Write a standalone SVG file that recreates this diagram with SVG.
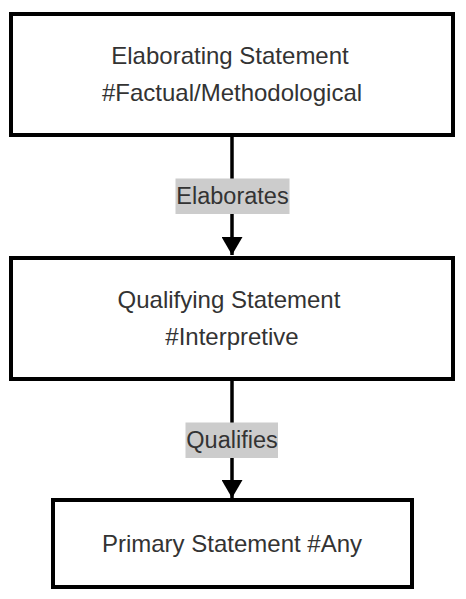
<svg xmlns="http://www.w3.org/2000/svg" width="466" height="599" viewBox="0 0 466 599">
<style>
.box{fill:#fff;stroke:#000;stroke-width:4}
.t{font-family:"Liberation Sans",Arial,sans-serif;font-size:24px;fill:#333;text-anchor:middle}
.el{font-family:"Liberation Sans",Arial,sans-serif;font-size:23.5px;fill:#333;text-anchor:middle}
.lbg{fill:#cccccc}
.edge{stroke:#000;stroke-width:3.5;fill:none}
</style>
<defs>
<marker id="ah" markerUnits="userSpaceOnUse" markerWidth="18" markerHeight="21" refX="18" refY="10.5" orient="auto" viewBox="0 0 18 21">
<path d="M0,0 L18,10.5 L0,21 Z" fill="#000"/>
</marker>
</defs>
<rect width="466" height="599" fill="#fff"/>
<g id="connectors">
<g id="e1">
<line class="edge" x1="232" y1="137" x2="232" y2="255" marker-end="url(#ah)"/>
<rect class="lbg" x="175.5" y="178.5" width="114" height="35.5"/>
<text class="el" x="232.5" y="204">Elaborates</text>
</g>
<g id="e2">
<line class="edge" x1="232" y1="381" x2="232" y2="498" marker-end="url(#ah)"/>
<rect class="lbg" x="185.5" y="422.5" width="92.5" height="35.5"/>
<text class="el" x="232" y="448">Qualifies</text>
</g>
</g>
<g id="n1">
<rect class="box" x="11" y="14" width="442" height="121"/>
<text class="t" x="230" y="64">Elaborating Statement</text>
<text class="t" x="232" y="101">#Factual/Methodological</text>
</g>
<g id="n2">
<rect class="box" x="11" y="258" width="442" height="121"/>
<text class="t" x="229" y="308">Qualifying Statement</text>
<text class="t" x="232" y="345">#Interpretive</text>
</g>
<g id="n3">
<rect class="box" x="53" y="500" width="359" height="87"/>
<text class="t" x="232" y="552">Primary Statement #Any</text>
</g>
</svg>
